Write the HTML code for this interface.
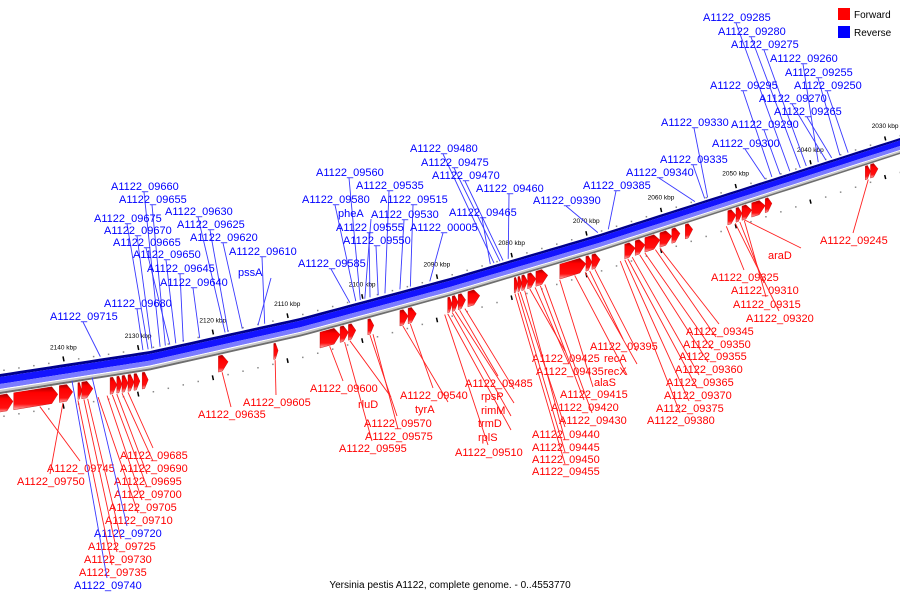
<!DOCTYPE html>
<html><head><meta charset="utf-8"><style>
html,body{margin:0;padding:0;background:#fff;}
svg{display:block;font-family:"Liberation Sans",sans-serif;}
</style></head><body>
<svg id="chart" width="900" height="600" viewBox="0 0 900 600">
<g id="band"></g>
<g id="ticks"></g>
<g id="genes"></g>
<g id="labels"></g>
<g>
<rect x="838" y="8" width="12" height="12" fill="#f00"/>
<text x="854" y="18" font-size="10" fill="#000">Forward</text>
<rect x="838" y="26" width="12" height="12" fill="#00f"/>
<text x="854" y="36" font-size="10" fill="#000">Reverse</text>
</g>
<text x="450" y="588" font-size="10" text-anchor="middle" fill="#000">Yersinia pestis A1122, complete genome. - 0..4553770</text>
</svg>
<script>
const tickValues=[2030,2040,2050,2060,2070,2080,2090,2100,2110,2120,2130,2140];
const fwdStart=[2149.1,2146.6,2140.5,2138.0,2137.5,2133.7,2132.8,2132.1,2131.3,2130.5,2129.4,2119.2,2111.8,2105.6,2102.9,2101.8,2099.2,2094.9,2093.8,2088.5,2087.9,2087.1,2085.8,2079.6,2079.1,2078.6,2077.8,2076.7,2073.5,2070.0,2069.2,2064.8,2063.4,2062.1,2060.1,2058.5,2056.7,2051.0,2049.9,2049.1,2047.8,2046.0,2032.6,2031.9];
const fwdEnd=[2146.7,2140.7,2138.7,2137.5,2136.0,2132.8,2132.1,2131.3,2130.5,2129.7,2128.6,2117.9,2111.2,2102.9,2101.8,2100.8,2098.4,2093.8,2092.7,2087.9,2087.1,2086.1,2084.2,2079.1,2078.6,2077.8,2076.7,2075.1,2070.0,2069.2,2068.1,2063.4,2062.1,2060.1,2058.5,2057.4,2055.7,2049.9,2049.1,2047.8,2046.0,2045.1,2031.9,2030.9];
const labelNames=["A1122_09285","A1122_09280","A1122_09275","A1122_09260","A1122_09255","A1122_09295","A1122_09250","A1122_09270","A1122_09265","A1122_09330","A1122_09290","A1122_09300","A1122_09335","A1122_09340","A1122_09385","A1122_09390","A1122_09480","A1122_09475","A1122_09470","A1122_09460","A1122_09560","A1122_09535","A1122_09580","A1122_09515","pheA","A1122_09530","A1122_09465","A1122_09555","A1122_00005","A1122_09550","A1122_09585","A1122_09660","A1122_09655","A1122_09630","A1122_09675","A1122_09625","A1122_09670","A1122_09620","A1122_09665","A1122_09610","A1122_09650","A1122_09645","pssA","A1122_09640","A1122_09680","A1122_09715",
"A1122_09245","araD","A1122_09325","A1122_09310","A1122_09315","A1122_09320","A1122_09345","A1122_09350","A1122_09395","A1122_09355","recA","A1122_09425","A1122_09360","recX","A1122_09435","A1122_09365","alaS","A1122_09485","A1122_09415","A1122_09370","A1122_09600","A1122_09540","rpsP","A1122_09420","A1122_09375","A1122_09605","rluD","tyrA","rimM","A1122_09635","A1122_09430","A1122_09380","A1122_09570","trmD","A1122_09440","rplS","A1122_09575","A1122_09445","A1122_09595","A1122_09510","A1122_09450","A1122_09455","A1122_09685","A1122_09745","A1122_09690","A1122_09750","A1122_09695","A1122_09700","A1122_09705","A1122_09710","A1122_09720","A1122_09725","A1122_09730","A1122_09735","A1122_09740"];
const labelKbp=[2042.7,2041.3,2040.5,2038.9,2036.0,2045.1,2034.9,2037.9,2037.1,2053.7,2044.0,2046.0,2054.1,2055.4,2067.0,2068.4,2082.3,2081.5,2081.1,2080.4,2100.2,2096.9,2100.8,2093.5,2099.6,2094.9,2082.8,2098.9,2090.9,2097.8,2101.6,2127.0,2126.3,2118.3,2128.6,2117.9,2128.1,2116.0,2125.7,2113.0,2124.9,2123.9,2113.9,2121.7,2129.3,2135.0,
2032.2,2048.7,2051.2,2049.4,2048.8,2050.0,2060.1,2060.7,2069.5,2062.1,2068.8,2077.5,2062.8,2070.1,2076.8,2063.8,2071.5,2086.9,2073.5,2064.4,2104.3,2093.5,2086.2,2076.1,2064.8,2111.6,2101.6,2094.5,2087.5,2118.7,2075.5,2065.4,2098.9,2087.9,2078.8,2088.5,2098.5,2078.2,2102.3,2088.9,2079.1,2079.5,2131.3,2143.1,2132.1,2140.0,2132.8,2133.4,2134.1,2135.3,2136.1,2136.7,2137.2,2138.0,2138.8];
const labelStrand=["R","R","R","R","R","R","R","R","R","R","R","R","R","R","R","R","R","R","R","R","R","R","R","R","R","R","R","R","R","R","R","R","R","R","R","R","R","R","R","R","R","R","R","R","R","R",
"F","F","F","F","F","F","F","F","F","F","F","F","F","F","F","F","F","F","F","F","F","F","F","F","F","F","F","F","F","F","F","F","F","F","F","F","F","F","F","F","F","F","F","F","F","F","F","F","F","F","R","F","F","F","R"];
// layout (text positions, not data)
const labelLayout=[[703,17],[718,31],[731,44],[770,58],[785,72],[710,85],[794,85],[759,98],[774,111],[661,122],[731,124],[712,143],[660,159],[626,172],[583,185],[533,200],[410,148],[421,162],[432,175],[476,188],[316,172],[356,185],[302,199],[380,199],[338,213],[371,214],[449,212],[336,227],[410,227],[343,240],[298,263],[111,186],[119,199],[165,211],[94,218],[177,224],[104,230],[190,237],[113,242],[229,251],[133,254],[147,268],[238,272],[160,282],[104,303],[50,316],
[820,240],[768,255],[711,277],[731,290],[733,304],[746,318],[686,331],[683,344],[590,346],[679,356],[604,358],[532,358],[675,369],[604,371],[536,371],[666,382],[594,382],[465,383],[560,394],[664,395],[310,388],[400,395],[481,396],[551,407],[656,408],[243,402],[358,404],[415,409],[481,410],[198,414],[559,420],[647,420],[364,423],[478,423],[532,434],[478,437],[365,436],[532,447],[339,448],[455,452],[532,459],[532,471],[120,455],[47,468],[120,468],[17,481],[114,481],[114,494],[109,507],[105,520],[94,533],[88,546],[84,559],[79,572],[74,585]];

const NS="http://www.w3.org/2000/svg";
function mk(tag,attrs,parent){const e=document.createElementNS(NS,tag);for(const k in attrs)e.setAttribute(k,attrs[k]);parent.appendChild(e);return e;}
function xOf(k){return 63+(2140-k)*7.47;}
const PX=[0,150,300,450,600,750,900],PY=[374,351,318,278,234,186,138];
function yTop(x){if(x<=PX[0])return PY[0]+(PY[1]-PY[0])/150*(x-PX[0]);for(let i=0;i<PX.length-1;i++){if(x<=PX[i+1]){const t=(x-PX[i])/(PX[i+1]-PX[i]);return PY[i]+t*(PY[i+1]-PY[i]);}}const n=PX.length-1;return PY[n]+(PY[n]-PY[n-1])/150*(x-PX[n]);}
function tb(x){return 15-3*x/900;}
function scale(x){return tb(x)/15;}

const band=document.getElementById('band');
function strip(f0,f1,color,name){let top=[],bot=[];for(let x=-10;x<=910;x+=10){top.push(x+","+(yTop(x)+f0*scale(x)).toFixed(2));bot.unshift(x+","+(yTop(x)+f1*scale(x)).toFixed(2));}
const p=mk('polygon',{points:top.concat(bot).join(' '),fill:color},band);

}
strip(0,3,'#00008c','reverse-strand-dark');
strip(3,10,'#1414ff','reverse-strand');
strip(10,15,'#7b7bff','reverse-strand-light');
strip(15,16,'#ffffff','band-gap');
strip(16,18,'#c8c8c8','backbone-light');
strip(18,20,'#6e6e6e','backbone-dark');

const ticks=document.getElementById('ticks');
for(let k=2026;k<=2152;k+=2){const x=xOf(k);if(x<-5||x>905)continue;const y=yTop(x),s=scale(x);
 const major=(k%10===0);
 if(major){const l=mk('line',{x1:x,y1:y-8*s,x2:x+1,y2:y-3*s,stroke:'#000','stroke-width':1.5},ticks);
  
  const l2=mk('line',{x1:x,y1:y+40*s,x2:x+1,y2:y+45*s,stroke:'#000','stroke-width':1.5},ticks);
  }
 else{const d=mk('rect',{x:x,y:y-4*s,width:1.5,height:1.5,fill:'#888'},ticks);
  
  const d2=mk('rect',{x:x,y:y+42*s,width:1.5,height:1.5,fill:'#888'},ticks);
  }
}
tickValues.forEach(k=>{const x=xOf(k);const t=mk('text',{x:x-13,y:yTop(x)-15,'font-size':6.5,fill:'#000'},ticks);t.textContent=k+" kbp";
 });

const genes=document.getElementById('genes');
const defs=mk('defs',{},document.getElementById('chart'));
const g=mk('linearGradient',{id:'rg',x1:0,y1:0,x2:0,y2:1},defs);
mk('stop',{offset:'0','stop-color':'#a00000'},g);mk('stop',{offset:'0.25','stop-color':'#ff0000'},g);mk('stop',{offset:'0.75','stop-color':'#ff1010'},g);mk('stop',{offset:'1','stop-color':'#ffb0b0'},g);
for(let i=0;i<fwdStart.length;i++){const x1=xOf(fwdStart[i]),x2=xOf(fwdEnd[i]);
 const s1=scale(x1),s2=scale(x2);const t1=yTop(x1)+21*s1,t2=yTop(x2)+21*s2;const h1=17*s1,h2=17*s2;
 const head=Math.min(6,(x2-x1)*0.6);const xm=x2-head;const tm=yTop(xm)+21*scale(xm),hm=17*scale(xm);
 const pts=[[x1,t1],[xm,tm],[x2,t2+h2/2],[xm,tm+hm],[x1,t1+h1]].map(p=>p[0].toFixed(1)+","+p[1].toFixed(1)).join(' ');
 const p=mk('polygon',{points:pts,fill:'url(#rg)',stroke:'#c00000','stroke-width':0.4},genes);
 }

const labels=document.getElementById('labels');
for(let i=0;i<labelNames.length;i++){const [lx,ly]=labelLayout[i];const ax=xOf(labelKbp[i]);const fwd=labelStrand[i]==='F';
 const col=fwd?'#f00':'#00f';
 let line;
 if(!fwd&&ly<350){line=mk('line',{x1:lx+33,y1:ly+6,x2:ax,y2:yTop(ax)-2,stroke:'#3838ff','stroke-width':0.9},labels);}
 else if(!fwd){line=mk('line',{x1:ax,y1:yTop(ax)+18*scale(ax),x2:lx+33,y2:ly-7,stroke:'#3838ff','stroke-width':0.9},labels);}
 else{line=mk('line',{x1:ax,y1:yTop(ax)+39*scale(ax),x2:lx+33,y2:ly-7,stroke:'#ff2020','stroke-width':0.9},labels);}
 
 
 const t=mk('text',{x:lx,y:ly+4,'font-size':11,fill:col},labels);t.textContent=labelNames[i];
 
 
}
</script>
</body></html>
